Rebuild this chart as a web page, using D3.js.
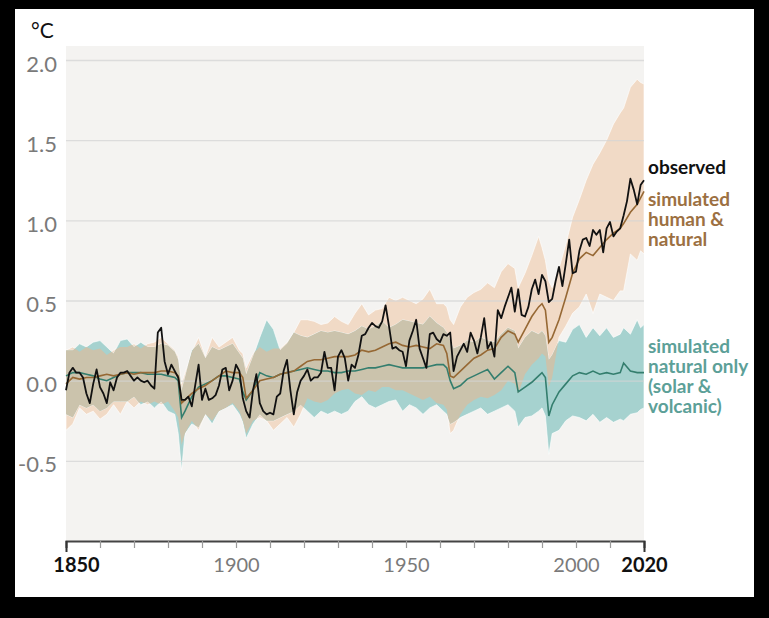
<!DOCTYPE html>
<html>
<head>
<meta charset="utf-8">
<script src="https://cdn.jsdelivr.net/npm/d3@7"></script>
<style>
  html, body { margin: 0; padding: 0; background: #000; }
  svg { display: block; }
  text { font-family: Lato, "Open Sans", sans-serif; }
</style>
</head>
<body>
<svg id="chart" width="769" height="618"></svg>
<script>
// ---- data (°C relative to 1850-1900) ----
const obsStart = 1850;
const observed = [
  -0.06, 0.05, 0.08, 0.05, 0.05, 0.02,-0.08,-0.14,-0.02, 0.07,   // 1850s
  -0.04,-0.08,-0.14,-0.01,-0.06, 0.02, 0.05, 0.05, 0.06, 0.03,   // 1860s
   0.00, 0.02, 0.00,-0.01, 0.00,-0.03,-0.05, 0.30, 0.33, 0.12,   // 1870s
   0.04, 0.10, 0.06, 0.02,-0.12,-0.12,-0.10,-0.16,-0.03, 0.10,   // 1880s
  -0.12,-0.05,-0.12,-0.11,-0.09,-0.03, 0.07, 0.08,-0.06, 0.00,   // 1890s
   0.10, 0.06,-0.11,-0.19,-0.23,-0.06, 0.04,-0.14,-0.19,-0.21,   // 1900s
  -0.20,-0.21,-0.10,-0.08, 0.06, 0.13,-0.06,-0.21,-0.07, 0.00,   // 1910s
   0.03, 0.07, 0.00, 0.02, 0.02, 0.05, 0.18, 0.08, 0.08,-0.06,   // 1920s
   0.15, 0.19, 0.14, 0.00, 0.10, 0.08, 0.16, 0.28, 0.29, 0.33,   // 1930s
   0.36, 0.34, 0.33, 0.37, 0.47, 0.34, 0.20, 0.21, 0.19, 0.18,   // 1940s
   0.09, 0.25, 0.31, 0.38, 0.20, 0.14, 0.08, 0.29, 0.30, 0.26,   // 1950s
   0.24, 0.29, 0.28, 0.30, 0.06, 0.15, 0.19, 0.23, 0.18, 0.30,   // 1960s
   0.25, 0.17, 0.27, 0.39, 0.20, 0.24, 0.15, 0.44, 0.39, 0.46,   // 1970s
   0.52, 0.58, 0.43, 0.57, 0.41, 0.40, 0.46, 0.57, 0.63, 0.54,   // 1980s
   0.66, 0.62, 0.49, 0.51, 0.62, 0.71, 0.59, 0.73, 0.88, 0.67,   // 1990s
   0.68, 0.81, 0.88, 0.89, 0.84, 0.94, 0.91, 0.94, 0.80, 0.95,   // 2000s
   0.99, 0.90, 0.93, 0.95, 1.03, 1.12, 1.26, 1.19, 1.10, 1.22,   // 2010s
   1.25                                                          // 2020
];

// years at which the simulated ranges / means were read
const simYears = [
  1850,1852,1854,1856,1858, 1860,1862,1864,1866,1868, 1870,1872,1874,1876,1878,
  1880,1882,1883,1884,1885,1887,1889, 1891,1893,1895,1897,1899,
  1901,1902,1903,1905,1907,1909, 1911,1913,1915,1917,1919, 1921,1923,1925,1927,1929,
  1931,1933,1935,1937,1939, 1941,1943,1945,1947,1949, 1951,1953,1955,1957,1959,
  1961,1962,1963,1964,1966,1968, 1970,1972,1974,1976,1978,
  1980,1982,1983,1985,1987,1989, 1990,1991,1992,1993,1995,1997,1999,
  2001,2003,2005,2007,2009, 2011,2013,2014,2016,2018,2019,2020
];

// simulated human & natural: mean, upper, lower
const humanMean = [
  -0.02,0.02,0.01,0.02,0.02, 0.03,0.04,0.03,0.04,0.05, 0.04,0.05,0.05,0.05,0.06,
  0.06,0.05,0.03,-0.14,-0.12,-0.08,-0.05, -0.03,0.00,0.03,0.06,0.05,
  0.05,0.02,-0.11,-0.06,0.00,0.01, 0.02,0.04,0.05,0.06,0.09, 0.12,0.13,0.13,0.14,0.15,
  0.15,0.15,0.16,0.19,0.18, 0.19,0.21,0.23,0.24,0.22, 0.21,0.22,0.21,0.20,0.23,
  0.22,0.17,0.03,0.02,0.06,0.10, 0.14,0.16,0.19,0.20,0.27,
  0.31,0.29,0.24,0.32,0.40,0.46, 0.48,0.44,0.24,0.27,0.38,0.52,0.67,
  0.76,0.80,0.78,0.83,0.88, 0.92,0.95,0.98,1.05,1.10,1.14,1.18
];
const humanHigh = [
  0.19,0.21,0.18,0.21,0.19, 0.20,0.16,0.19,0.21,0.21, 0.23,0.20,0.23,0.24,0.27,
  0.23,0.19,0.15,-0.02,0.05,0.18,0.27, 0.15,0.27,0.21,0.24,0.27,
  0.19,0.17,0.08,0.17,0.21,0.18, 0.20,0.20,0.24,0.30,0.38, 0.38,0.37,0.35,0.36,0.40,
  0.37,0.35,0.42,0.48,0.41, 0.44,0.45,0.52,0.50,0.52, 0.50,0.48,0.51,0.57,0.48,
  0.48,0.46,0.38,0.35,0.46,0.52, 0.55,0.57,0.61,0.58,0.68,
  0.73,0.70,0.58,0.67,0.78,0.90, 0.83,0.75,0.62,0.58,0.70,0.85,1.02,
  1.13,1.25,1.35,1.42,1.50, 1.60,1.67,1.70,1.83,1.88,1.86,1.85
];
const humanLow = [
  -0.31,-0.27,-0.17,-0.21,-0.19, -0.24,-0.21,-0.15,-0.21,-0.13, -0.17,-0.13,-0.15,-0.13,-0.15,
  -0.13,-0.19,-0.23,-0.40,-0.33,-0.25,-0.31, -0.21,-0.25,-0.19,-0.17,-0.14,
  -0.19,-0.25,-0.33,-0.25,-0.23,-0.25, -0.31,-0.27,-0.23,-0.29,-0.21, -0.11,-0.13,-0.14,-0.12,-0.08,
  -0.06,-0.05,-0.08,-0.09,-0.06, -0.07,-0.04,-0.04,-0.06,-0.06, -0.08,-0.10,-0.12,-0.10,-0.14,
  -0.15,-0.18,-0.33,-0.31,-0.21,-0.15, -0.12,-0.10,-0.11,-0.09,-0.06,
  0.00,-0.02,-0.08,0.04,0.10,0.14, 0.17,0.15,-0.04,0.02,0.27,0.34,0.42,
  0.46,0.54,0.42,0.54,0.52, 0.50,0.56,0.56,0.79,0.75,0.81,0.79
];

// simulated natural only: mean, upper, lower
const naturalMean = [
  0.03,0.05,0.05,0.04,0.03, 0.01,0.00,0.02,0.04,0.05, 0.05,0.05,0.04,0.04,0.04,
  0.03,0.02,0.00,-0.23,-0.19,-0.10,-0.04, -0.02,0.00,0.03,0.03,0.02,
  0.01,-0.07,-0.12,-0.06,0.05,0.03, 0.02,0.04,0.05,0.06,0.07, 0.08,0.07,0.06,0.06,0.05,
  0.05,0.06,0.06,0.07,0.08, 0.08,0.09,0.10,0.09,0.08, 0.08,0.08,0.08,0.09,0.10,
  0.10,0.08,0.00,-0.05,-0.03,0.01, 0.03,0.05,0.07,0.01,0.05,
  0.09,0.05,-0.07,-0.04,-0.01,0.03, 0.05,0.02,-0.22,-0.15,-0.07,-0.02,0.03,
  0.05,0.04,0.06,0.04,0.05, 0.04,0.05,0.11,0.06,0.05,0.05,0.05
];
const naturalHigh = [
  0.19,0.19,0.23,0.21,0.24, 0.25,0.21,0.17,0.25,0.26, 0.21,0.24,0.21,0.21,0.23,
  0.22,0.18,0.13,-0.06,0.02,0.19,0.23, 0.14,0.21,0.19,0.21,0.23,
  0.17,0.14,0.04,0.15,0.27,0.38, 0.32,0.19,0.23,0.30,0.28, 0.27,0.29,0.31,0.30,0.31,
  0.30,0.29,0.31,0.34,0.32, 0.34,0.37,0.33,0.35,0.38, 0.37,0.36,0.35,0.40,0.36,
  0.33,0.30,0.25,0.20,0.22,0.25, 0.24,0.27,0.25,0.24,0.29,
  0.33,0.31,0.20,0.27,0.31,0.29, 0.31,0.28,0.13,0.16,0.25,0.24,0.32,
  0.35,0.27,0.33,0.28,0.33, 0.27,0.29,0.33,0.29,0.38,0.33,0.35
];
const naturalLow = [
  -0.21,-0.23,-0.15,-0.17,-0.15, -0.19,-0.17,-0.13,-0.13,-0.13, -0.10,-0.15,-0.13,-0.17,-0.13,
  -0.19,-0.21,-0.33,-0.56,-0.33,-0.27,-0.29, -0.21,-0.27,-0.19,-0.17,-0.15,
  -0.21,-0.26,-0.36,-0.27,-0.21,-0.25, -0.25,-0.23,-0.21,-0.19,-0.15, -0.19,-0.23,-0.19,-0.21,-0.19,
  -0.21,-0.19,-0.13,-0.10,-0.15, -0.17,-0.15,-0.13,-0.12,-0.19, -0.15,-0.17,-0.21,-0.17,-0.15,
  -0.19,-0.21,-0.27,-0.26,-0.23,-0.21, -0.19,-0.17,-0.21,-0.19,-0.17,
  -0.15,-0.19,-0.29,-0.23,-0.22,-0.19, -0.17,-0.22,-0.46,-0.33,-0.31,-0.25,-0.22,
  -0.23,-0.25,-0.21,-0.26,-0.23, -0.26,-0.24,-0.25,-0.21,-0.20,-0.18,-0.17
];

const yTicks = [-0.5, 0, 0.5, 1, 1.5, 2];
const xTicks = d3.range(1850, 2021, 10);
const xLabels = [1850, 1900, 1950, 2000, 2020];
const boldYears = [1850, 2020];

const legendObserved = ["observed"];
const legendHuman = ["simulated", "human &", "natural"];
const legendNatural = ["simulated", "natural only", "(solar &", "volcanic)"];

// ---- layout ----
const svg = d3.select("#chart");
const plotL = 66, plotR = 644, plotT = 60, plotB = 541;

const x = d3.scaleLinear().domain([1850, 2020]).range([plotL, plotR]);
const y = d3.scaleLinear().domain([-1, 2]).range([plotB, plotT]);

// white card on black frame
svg.append("rect").attr("x", 15).attr("y", 9).attr("width", 739).attr("height", 588).attr("fill", "#fff");
// plot background
svg.append("rect").attr("x", plotL).attr("y", 46).attr("width", plotR - plotL).attr("height", plotB - 46)
  .attr("fill", "#f4f3f1");

const sims = simYears.map((yr, i) => ({
  yr, hm: humanMean[i], hh: humanHigh[i], hl: humanLow[i],
  nm: naturalMean[i], nh: naturalHigh[i], nl: naturalLow[i]
}));

const bandNat = d3.area().x(d => x(d.yr)).y0(d => y(d.nl)).y1(d => y(d.nh));
const bandHum = d3.area().x(d => x(d.yr)).y0(d => y(d.hl)).y1(d => y(d.hh));

// ranges: peach, teal, and khaki where they overlap
svg.append("clipPath").attr("id", "humClip")
  .append("path").datum(sims).attr("d", bandHum);

svg.append("path").datum(sims).attr("d", bandHum)
  .attr("fill", "rgb(241,218,198)").attr("stroke", "#fff").attr("stroke-opacity", 0.7).attr("stroke-width", 0.9);
svg.append("path").datum(sims).attr("d", bandNat)
  .attr("fill", "rgb(166,210,207)").attr("stroke", "#fff").attr("stroke-opacity", 0.7).attr("stroke-width", 0.9);
svg.append("path").datum(sims).attr("d", bandNat).attr("clip-path", "url(#humClip)")
  .attr("fill", "rgb(203,195,172)");

// gridlines
svg.append("g").attr("transform", `translate(${plotL},0)`)
  .call(d3.axisLeft(y).tickValues(yTicks).tickSize(-(plotR - plotL)).tickFormat(""))
  .call(g => g.select(".domain").remove())
  .call(g => g.selectAll("line").attr("stroke", "#d4d4d4").attr("stroke-opacity", 0.75).attr("stroke-width", 1.3));

// y labels
svg.append("g").attr("transform", `translate(${plotL},0)`)
  .call(d3.axisLeft(y).tickValues(yTicks).tickSize(0).tickPadding(9).tickFormat(d => d.toFixed(1)))
  .call(g => g.select(".domain").remove())
  .call(g => g.selectAll("text").attr("fill", "#7a7a7a").attr("font-size", 22)
    .attr("font-family", "Lato, sans-serif").attr("dy", "0.5em"));

svg.append("text").attr("x", 31).attr("y", 38).attr("font-size", 21).attr("fill", "#111").text("°C");

// mean lines
const lineNat = d3.line().x(d => x(d.yr)).y(d => y(d.nm));
const lineHum = d3.line().x(d => x(d.yr)).y(d => y(d.hm));
svg.append("path").datum(sims).attr("d", lineNat)
  .attr("fill", "none").attr("stroke", "rgb(52,126,110)").attr("stroke-width", 1.6);
svg.append("path").datum(sims).attr("d", lineHum)
  .attr("fill", "none").attr("stroke", "rgb(150,104,52)").attr("stroke-width", 1.6);

const lineObs = d3.line().x((d, i) => x(obsStart + i)).y(d => y(d));
svg.append("path").datum(observed).attr("d", lineObs)
  .attr("fill", "none").attr("stroke", "#111").attr("stroke-width", 1.8).attr("stroke-linejoin", "round");

// x axis
const xAxis = svg.append("g").attr("transform", `translate(0,${plotB})`)
  .call(d3.axisBottom(x).tickValues(xTicks).tickSize(7).tickPadding(10)
    .tickFormat(d => xLabels.includes(d) ? String(d) : ""));
xAxis.select(".domain").attr("stroke", "#444").attr("stroke-width", 2);
xAxis.selectAll(".tick line").attr("stroke", "#9a9a9a").attr("stroke-width", 1.2);
xAxis.selectAll(".tick text").attr("font-size", 20).attr("font-family", "Lato, sans-serif").attr("fill", "#7a7a7a");
xAxis.selectAll(".tick").filter(d => boldYears.includes(d))
  .call(t => t.select("line").attr("y2", 11).attr("stroke", "#333").attr("stroke-width", 2))
  .call(t => t.select("text").attr("fill", "#111").attr("font-weight", 700));
xAxis.selectAll(".tick").filter(d => d === 1850).select("text").attr("dx", 10);

// labels at right
const addLabel = (lines, y0, color) => {
  svg.append("text").attr("x", 648).attr("y", y0).attr("font-size", 19).attr("font-weight", 700)
    .attr("fill", color)
    .selectAll("tspan").data(lines).join("tspan")
    .attr("x", 648).attr("dy", (d, i) => i ? 20 : 0).text(d => d);
};
addLabel(legendObserved, 174, "#111");
addLabel(legendHuman, 206, "rgb(156,112,66)");
addLabel(legendNatural, 353, "rgb(92,160,152)");
</script>
</body>
</html>
